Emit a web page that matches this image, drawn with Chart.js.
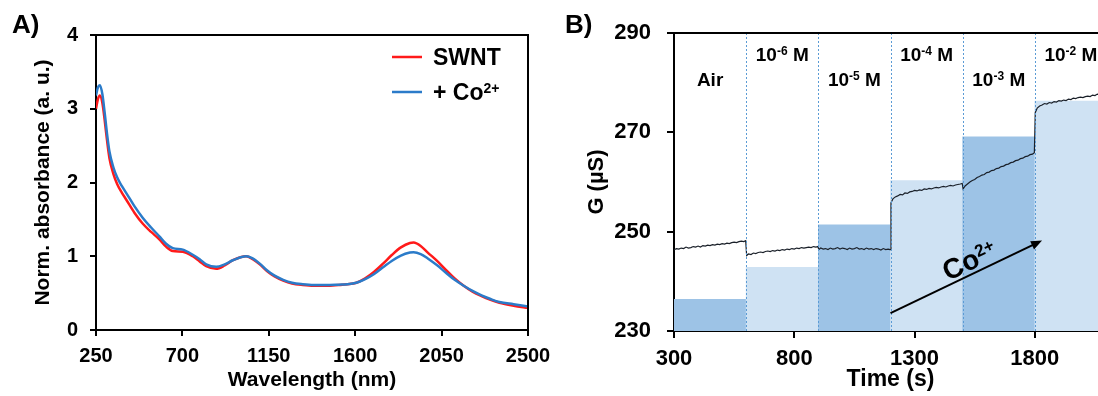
<!DOCTYPE html>
<html>
<head>
<meta charset="utf-8">
<script src="https://cdn.jsdelivr.net/npm/chart.js@4.4.1/dist/chart.umd.min.js"></script>
<style>
  body { margin: 0; background: #fff; }
  #wrap { position: relative; width: 1098px; height: 396px; overflow: hidden; background: #fff; }
  canvas { position: absolute; top: 0; }
  #chartA { left: 0; }
  #chartB { left: 560px; }
</style>
</head>
<body>
<div id="wrap">
  <canvas id="chartA" width="560" height="396"></canvas>
  <canvas id="chartB" width="560" height="396"></canvas>
</div>
<script>
const FONT = '"Liberation Sans", Arial, sans-serif';
Chart.defaults.font.family = FONT;
Chart.defaults.color = '#000';

// --- A) absorption spectra ---
const wavelength = [250, 260, 270, 283, 295, 307, 320, 340, 360, 385,
  407, 450, 494, 537, 580, 615, 650, 702, 754, 790,
  824, 876, 920, 963, 1032, 1066, 1103, 1140, 1178, 1225,
  1271, 1327, 1383, 1448, 1513, 1560, 1606, 1652, 1699, 1745,
  1792, 1838, 1885, 1904, 1941, 1978, 2025, 2071, 2118, 2165,
  2211, 2258, 2305, 2351, 2425, 2500];
const absSWNT = [3.0, 3.13, 3.18, 3.08, 2.85, 2.58, 2.33, 2.12, 1.98, 1.86,
  1.77, 1.59, 1.44, 1.33, 1.23, 1.13, 1.07, 1.06, 1.0, 0.93,
  0.865, 0.83, 0.875, 0.946, 1.0, 0.96, 0.89, 0.80, 0.73, 0.67,
  0.63, 0.61, 0.60, 0.60, 0.61, 0.62, 0.64, 0.70, 0.79, 0.90,
  1.02, 1.12, 1.18, 1.185, 1.14, 1.05, 0.94, 0.82, 0.70, 0.60,
  0.52, 0.46, 0.41, 0.37, 0.33, 0.30];
const absCo = [3.18, 3.29, 3.32, 3.2, 2.95, 2.67, 2.42, 2.21, 2.07, 1.95,
  1.86, 1.68, 1.52, 1.39, 1.27, 1.17, 1.11, 1.09, 1.02, 0.96,
  0.89, 0.857, 0.89, 0.946, 1.0, 0.97, 0.90, 0.81, 0.74, 0.68,
  0.64, 0.62, 0.61, 0.61, 0.615, 0.62, 0.64, 0.69, 0.76, 0.85,
  0.94, 1.01, 1.05, 1.055, 1.03, 0.97, 0.88, 0.78, 0.68, 0.60,
  0.53, 0.47, 0.42, 0.38, 0.35, 0.32];
const seriesNames = [['SWNT'], ['+ Co', '2+']];
const xTicksA = [250, 700, 1150, 1600, 2050, 2500];
const yTicksA = [0, 1, 2, 3, 4];

// --- B) conductance during Co2+ steps ---
const timeS = [
  300, 310, 320, 330, 340, 350, 360, 370, 380, 390, 400, 410, 420, 430, 440, 450,
  460, 470, 480, 490, 500, 510, 520, 530, 540, 550, 560, 570, 580, 590, 598,
  602, 610, 620, 630, 640, 650, 660, 670, 680, 690, 700, 710, 720, 730, 740, 750,
  760, 770, 780, 790, 800, 810, 820, 830, 840, 850, 860, 870, 880, 890, 898,
  902, 910, 920, 930, 940, 950, 960, 970, 980, 990, 1000, 1010, 1020, 1030, 1040, 1050,
  1060, 1070, 1080, 1090, 1100, 1110, 1120, 1130, 1140, 1150, 1160, 1170, 1180, 1190, 1198,
  1202, 1210, 1220, 1230, 1240, 1250, 1260, 1270, 1280, 1290, 1300, 1310, 1320, 1330, 1340, 1350,
  1360, 1370, 1380, 1390, 1400, 1410, 1420, 1430, 1440, 1450, 1460, 1470, 1480, 1490, 1498,
  1502, 1510, 1520, 1530, 1540, 1550, 1560, 1570, 1580, 1590, 1600, 1610, 1620, 1630, 1640, 1650,
  1660, 1670, 1680, 1690, 1700, 1710, 1720, 1730, 1740, 1750, 1760, 1770, 1780, 1790, 1798,
  1802, 1810, 1820, 1830, 1840, 1850, 1860, 1870, 1880, 1890, 1900, 1910, 1920, 1930, 1940, 1950,
  1960, 1970, 1980, 1990, 2000, 2010, 2020, 2030, 2040, 2050, 2060, 2070, 2080, 2090, 2100];
const condUS = [
  246.3, 246.6, 246.5, 246.7, 246.6, 246.9, 246.7, 246.8, 247.0, 246.9, 247.1, 246.9, 247.2, 247.1, 247.3, 247.2,
  247.4, 247.3, 247.5, 247.4, 247.6, 247.5, 247.7, 247.6, 247.8, 247.9, 247.8, 248.0, 248.1, 248.0, 248.2,
  245.2, 245.5, 245.4, 245.7, 245.6, 245.8, 245.9, 245.8, 246.0, 246.1, 246.0, 246.2, 246.1, 246.3, 246.2, 246.4,
  246.3, 246.5, 246.4, 246.6, 246.5, 246.7, 246.6, 246.8, 246.7, 246.8, 246.9, 246.8, 247.0, 246.9, 247.0,
  246.4, 246.7, 246.5, 246.6, 246.4, 246.7, 246.5, 246.6, 246.8, 246.5, 246.7, 246.6, 246.4, 246.7, 246.5, 246.6,
  246.8, 246.5, 246.6, 246.4, 246.7, 246.5, 246.6, 246.4, 246.6, 246.5, 246.3, 246.6, 246.4, 246.5, 246.4,
  255.8, 256.6, 257.0, 257.2, 257.5, 257.4, 257.8, 257.7, 258.0, 258.1, 258.3, 258.2, 258.4, 258.3, 258.6, 258.5,
  258.7, 258.6, 258.8, 258.9, 258.8, 259.0, 259.1, 259.0, 259.2, 259.3, 259.2, 259.4, 259.5, 259.6, 259.7,
  258.6, 259.2, 259.6, 260.0, 260.3, 260.5, 260.9, 261.1, 261.4, 261.5, 261.9, 262.0, 262.3, 262.4, 262.7, 262.8,
  263.1, 263.2, 263.5, 263.6, 263.9, 264.0, 264.3, 264.4, 264.7, 264.8, 265.1, 265.2, 265.5, 265.6, 265.9,
  274.0, 274.9, 275.3, 275.5, 275.8, 275.7, 276.0, 275.9, 276.2, 276.1, 276.4, 276.3, 276.5, 276.4, 276.7, 276.6,
  276.9, 276.8, 277.0, 277.1, 277.0, 277.2, 277.3, 277.2, 277.5, 277.4, 277.7, 277.6, 277.8, 277.7, 277.9];
const stepCenters = [450, 750, 1050, 1350, 1650, 1950];
const stepLevels = [236.4, 242.8, 251.4, 260.3, 269.1, 276.3];
const stepEdges = [600, 900, 1200, 1500, 1800];
const stepLabels = [['Air'], ['10', '-6', ' M'], ['10', '-5', ' M'], ['10', '-4', ' M'], ['10', '-3', ' M'], ['10', '-2', ' M']];
const xTicksB = [300, 800, 1300, 1800];
const yTicksB = [230, 250, 270, 290];
const arrowStart = [1200, 233.6];
const arrowEnd = [1830, 248.2];

// text with an optional superscript and tail, e.g. 10^-6 M
function supText(ctx, parts, x, y, size, supSize, align) {
  const base = parts[0], sup = parts[1] || '', tail = parts[2] || '';
  const big = `bold ${size}px ${FONT}`;
  const small = `bold ${supSize}px ${FONT}`;
  ctx.font = big;
  const w1 = ctx.measureText(base).width;
  const w3 = ctx.measureText(tail).width;
  ctx.font = small;
  const w2 = ctx.measureText(sup).width;
  let sx = align === 'center' ? x - (w1 + w2 + w3) / 2 : x;
  ctx.textAlign = 'left';
  ctx.textBaseline = 'alphabetic';
  ctx.font = big;
  ctx.fillText(base, sx, y);
  if (sup) { ctx.font = small; ctx.fillText(sup, sx + w1, y - size * 0.3); }
  if (tail) { ctx.font = big; ctx.fillText(tail, sx + w1 + w2, y); }
}

function fixedTicks(list) {
  return scale => { scale.ticks = list.map(v => ({ value: v })); };
}
const plainLabel = v => String(v);

const frameA = {
  id: 'frameA',
  afterDraw(chart) {
    const { ctx, chartArea: a } = chart;
    ctx.save();
    ctx.strokeStyle = '#000';
    ctx.lineWidth = 2;
    ctx.beginPath();
    ctx.moveTo(a.left, a.top);
    ctx.lineTo(a.right, a.top);
    ctx.lineTo(a.right, a.bottom);
    ctx.stroke();

    // legend
    chart.data.datasets.forEach((ds, i) => {
      const y = 57 + i * 35;
      ctx.strokeStyle = ds.borderColor;
      ctx.lineWidth = 2.5;
      ctx.beginPath();
      ctx.moveTo(392, y);
      ctx.lineTo(422, y);
      ctx.stroke();
      ctx.fillStyle = '#000';
      supText(ctx, seriesNames[i], 433, y + 8, 23, 14, 'left');
    });

    ctx.fillStyle = '#000';
    ctx.font = `bold 26px ${FONT}`;
    ctx.textAlign = 'left';
    ctx.textBaseline = 'alphabetic';
    ctx.fillText('A)', 12, 33);
    ctx.restore();
  }
};

const frameB = {
  id: 'frameB',
  afterDatasetsDraw(chart) {
    const { ctx, chartArea: a, scales } = chart;
    const xs = scales.x, ys = scales.y;
    ctx.save();

    // dotted separators between the concentration steps
    ctx.strokeStyle = '#5B9BD5';
    ctx.lineWidth = 1;
    ctx.setLineDash([2, 2]);
    stepEdges.forEach(t => {
      const x = Math.round(xs.getPixelForValue(t)) + 0.5;
      ctx.beginPath();
      ctx.moveTo(x, a.top);
      ctx.lineTo(x, a.bottom);
      ctx.stroke();
    });
    ctx.setLineDash([]);

    // step names, alternating rows
    ctx.fillStyle = '#000';
    stepLabels.forEach((parts, i) => {
      const y = a.top + (i % 2 === 0 ? 53 : 28);
      supText(ctx, parts, xs.getPixelForValue(stepCenters[i]), y, 19, 12, 'center');
    });

    // Co2+ arrow
    const x0 = xs.getPixelForValue(arrowStart[0]), y0 = ys.getPixelForValue(arrowStart[1]);
    const x1 = xs.getPixelForValue(arrowEnd[0]), y1 = ys.getPixelForValue(arrowEnd[1]);
    const ang = Math.atan2(y1 - y0, x1 - x0);
    const head = 11;
    ctx.strokeStyle = '#000';
    ctx.lineWidth = 2;
    ctx.beginPath();
    ctx.moveTo(x0, y0);
    ctx.lineTo(x1 - Math.cos(ang) * head * 0.8, y1 - Math.sin(ang) * head * 0.8);
    ctx.stroke();
    ctx.fillStyle = '#000';
    ctx.beginPath();
    ctx.moveTo(x1, y1);
    ctx.lineTo(x1 - head * Math.cos(ang) + 4.5 * Math.sin(ang), y1 - head * Math.sin(ang) - 4.5 * Math.cos(ang));
    ctx.lineTo(x1 - head * Math.cos(ang) - 4.5 * Math.sin(ang), y1 - head * Math.sin(ang) + 4.5 * Math.cos(ang));
    ctx.closePath();
    ctx.fill();

    ctx.translate((x0 + x1) / 2, (y0 + y1) / 2);
    ctx.rotate(ang);
    supText(ctx, ['Co', '2+'], 10, -4, 28, 17, 'center');
    ctx.restore();

    // top frame line
    ctx.save();
    ctx.strokeStyle = '#000';
    ctx.lineWidth = 2;
    ctx.beginPath();
    ctx.moveTo(a.left, a.top);
    ctx.lineTo(a.right, a.top);
    ctx.stroke();
    ctx.fillStyle = '#000';
    ctx.font = `bold 26px ${FONT}`;
    ctx.textAlign = 'left';
    ctx.textBaseline = 'alphabetic';
    ctx.fillText('B)', 5, 33);
    ctx.restore();
  }
};

new Chart(document.getElementById('chartA'), {
  type: 'line',
  data: {
    datasets: [
      {
        label: 'SWNT',
        data: wavelength.map((w, i) => ({ x: w, y: absSWNT[i] })),
        borderColor: '#FF1A1A',
        borderWidth: 2.5,
        pointRadius: 0,
        cubicInterpolationMode: 'monotone',
        order: 2
      },
      {
        label: '+ Co2+',
        data: wavelength.map((w, i) => ({ x: w, y: absCo[i] })),
        borderColor: '#2B7BC9',
        borderWidth: 2.5,
        pointRadius: 0,
        cubicInterpolationMode: 'monotone',
        order: 1
      }
    ]
  },
  options: {
    responsive: false,
    animation: false,
    devicePixelRatio: 1,
    events: [],
    layout: { padding: { left: 0, top: 35, right: 32, bottom: 0 } },
    plugins: { legend: { display: false }, tooltip: { enabled: false } },
    scales: {
      x: {
        type: 'linear', min: 250, max: 2500,
        afterBuildTicks: fixedTicks(xTicksA),
        afterFit: s => { s.height = 66; },
        grid: { drawOnChartArea: false, tickLength: 6, color: '#000', lineWidth: 2 },
        border: { color: '#000', width: 2 },
        ticks: { font: { size: 20, weight: 'bold' }, padding: 8, maxRotation: 0, autoSkip: false, callback: plainLabel },
        title: { display: true, text: 'Wavelength (nm)', font: { size: 21, weight: 'bold' }, padding: { top: 0, bottom: 3 } }
      },
      y: {
        min: 0, max: 4,
        afterBuildTicks: fixedTicks(yTicksA),
        afterFit: s => { s.width = 96; },
        grid: { drawOnChartArea: false, tickLength: 6, color: '#000', lineWidth: 2 },
        border: { color: '#000', width: 2 },
        ticks: { font: { size: 20, weight: 'bold' }, padding: 12, callback: plainLabel },
        title: { display: true, text: 'Norm. absorbance (a. u.)', font: { size: 21, weight: 'bold' }, padding: { top: 31, bottom: 0 } }
      }
    }
  },
  plugins: [frameA]
});

new Chart(document.getElementById('chartB'), {
  type: 'line',
  data: {
    datasets: [
      {
        type: 'bar',
        data: stepCenters.map((t, i) => ({ x: t, y: stepLevels[i] })),
        backgroundColor: stepCenters.map((_, i) => i % 2 === 0 ? '#9DC3E6' : '#CFE2F3'),
        borderWidth: 0,
        barPercentage: 1,
        categoryPercentage: 1,
        order: 2
      },
      {
        type: 'line',
        data: timeS.map((t, i) => ({ x: t, y: condUS[i] })),
        borderColor: '#1A2029',
        borderWidth: 1.2,
        pointRadius: 0,
        tension: 0,
        order: 1
      }
    ]
  },
  options: {
    responsive: false,
    animation: false,
    devicePixelRatio: 1,
    events: [],
    layout: { padding: { left: 0, top: 33, right: 13, bottom: 0 } },
    plugins: { legend: { display: false }, tooltip: { enabled: false } },
    scales: {
      x: {
        type: 'linear', min: 300, max: 2100, offset: false,
        afterBuildTicks: fixedTicks(xTicksB),
        afterFit: s => { s.height = 65; },
        grid: { offset: false, drawOnChartArea: false, tickLength: 7, color: '#000', lineWidth: 2 },
        border: { color: '#000', width: 2 },
        ticks: { font: { size: 22, weight: 'bold' }, padding: 8, maxRotation: 0, autoSkip: false, callback: plainLabel },
        title: { display: true, text: 'Time (s)', font: { size: 23, weight: 'bold' }, padding: { top: 0, bottom: 3 } }
      },
      y: {
        min: 230, max: 290,
        afterBuildTicks: fixedTicks(yTicksB),
        afterFit: s => { s.width = 114; },
        grid: { drawOnChartArea: false, tickLength: 7, color: '#000', lineWidth: 2 },
        border: { color: '#000', width: 2 },
        ticks: { font: { size: 22, weight: 'bold' }, padding: 16, callback: plainLabel },
        title: { display: true, text: 'G (µS)', font: { size: 22, weight: 'bold' }, padding: { top: 24, bottom: 0 } }
      }
    }
  },
  plugins: [frameB]
});
</script>
</body>
</html>
